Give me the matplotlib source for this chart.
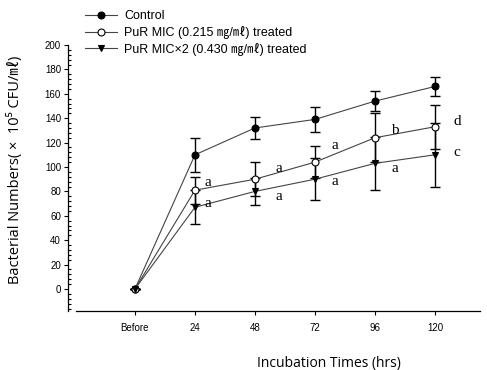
import numpy as np
import matplotlib
matplotlib.use("Agg")
import matplotlib.pyplot as plt
from matplotlib.ticker import MultipleLocator

# data
times = ['Before', '24', '48', '72', '96', '120']
control = [0, 110, 132, 139, 154, 166]
control_err = [0, 14, 9, 10, 8.5, 8]
mic = [0, 81, 90, 104, 124, 133]
mic_err = [0, 11, 14, 13, 20, 18]
mic2 = [0, 67, 80, 90, 103, 110]
mic2_err = [0, 14, 11, 17, 22, 26]

labels = ['Control',
          'PuR MIC (0.215 \u338e/\u3396) treated',
          'PuR MIC\u00d72 (0.430 \u338e/\u3396) treated']

# significance letters: (x, y, text)
letters_x = [1.22, 1.22, 2.4, 2.4, 3.33, 3.33, 4.33, 4.33, 5.37, 5.37]
letters_y = [87, 70.5, 99, 75.5, 118, 88, 130, 99, 137, 111.5]
letters = ['a', 'a', 'a', 'a', 'a', 'a', 'b', 'a', 'd', 'c']

fonts = ['Liberation Sans', 'Noto Sans CJK KR']
label_fonts = ['Open Sans', 'Noto Sans CJK KR']

fig = plt.figure(figsize=(4.87, 3.70), dpi=100)
ax = fig.add_axes([0.156, 0.1595, 0.8296, 0.7189])

x = np.arange(len(times))
series = [(control, control_err, 'o', 'black'),
          (mic, mic_err, 'o', 'white'),
          (mic2, mic2_err, 'v', 'black')]
handles = []
for (y, e, m, fc), lab in zip(series, labels):
    ax.errorbar(x, y, yerr=e, fmt='none', ecolor='black', elinewidth=1.0,
                capsize=3.5, capthick=1.0, zorder=2)
    h, = ax.plot(x, y, color='#444444', lw=0.8, marker=m, markersize=5,
                 markerfacecolor=fc, markeredgecolor='black',
                 markeredgewidth=0.8, label=lab, zorder=3)
    handles.append(h)

for lx, ly, t in zip(letters_x, letters_y, letters):
    ax.text(lx, ly, t, fontsize=11, family='Liberation Serif',
            ha='center', va='center')

ax.set_xlim(-0.983, 5.75)
ax.set_ylim(-18, 200)
ax.set_xticks(x)
ax.set_xticklabels(times)
ax.set_yticks(np.arange(0, 201, 20))
ax.yaxis.set_minor_locator(MultipleLocator(4))
ax.tick_params(axis='both', which='major', labelsize=7,
               labelfontfamily='Liberation Sans')
ax.tick_params(axis='y', which='major', direction='out', length=3, width=0.8, pad=2)
ax.tick_params(axis='y', which='minor', direction='in', length=2.5, width=0.8)
ax.tick_params(axis='x', which='major', direction='out', length=3, width=0.8, pad=6)

ax.spines['top'].set_visible(False)
ax.spines['right'].set_visible(False)
ax.spines['left'].set_position(('outward', 5.8))
ax.spines['left'].set_linewidth(0.9)
ax.spines['bottom'].set_linewidth(0.9)

fig.text(15 / 487, 1 - 170 / 370, 'Bacterial Numbers( \u00d7  10\u2075 CFU/\u3396)',
         rotation=90, ha='center', va='center', fontsize=10.5, family=label_fonts)
fig.text(329 / 487, 1 - 363 / 370, 'Incubation Times (hrs)',
         ha='center', va='center', fontsize=10, family=label_fonts)

fig.legend(handles=handles, labels=labels, loc='upper left',
           bbox_to_anchor=(79 / 487, 1 - 4 / 370), frameon=False,
           borderpad=0, handlelength=2.5, handletextpad=0.6,
           labelspacing=0.3, prop={'family': fonts, 'size': 9})

fig.savefig('out.png', dpi=100)
